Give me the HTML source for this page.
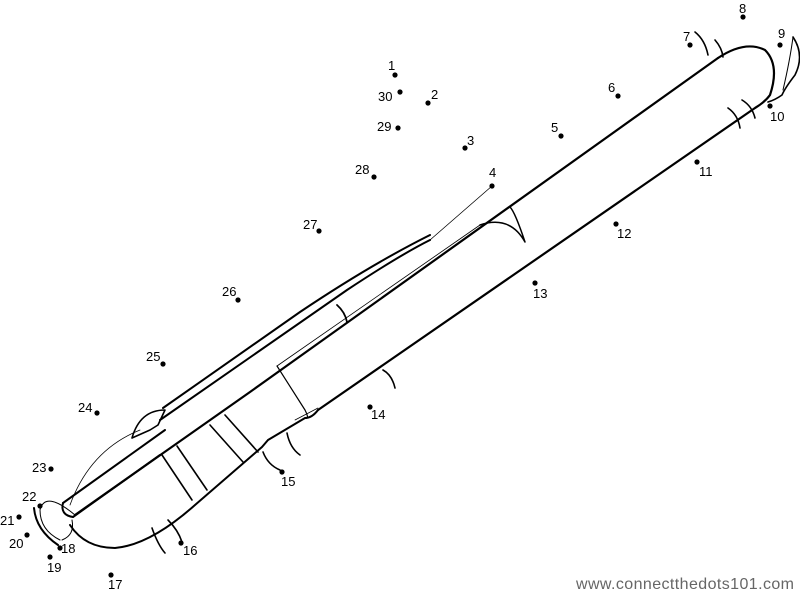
<!DOCTYPE html>
<html><head><style>
html,body{margin:0;padding:0;background:#fff;}
svg{display:block;}
text{font-family:"Liberation Sans",sans-serif;font-size:13px;fill:#000;}
</style></head><body>
<svg width="800" height="594" viewBox="0 0 800 594" xmlns="http://www.w3.org/2000/svg">
<g fill="none" stroke="#000" stroke-linecap="round" stroke-linejoin="round">
<path d="M718,58 Q745,40 765,50 Q780,65 770,95 Q765,102 755,108 L318,410" stroke-width="2.2"/>
<path d="M718,58 L250,392 L75,515" stroke-width="2.2"/>
<path d="M318,410 Q312,418 305,418 L268,440 L262,447 L195,505 Q150,545 115,548 Q85,548 70,525" stroke-width="2"/>
<path d="M480,225 L277,366" stroke-width="0.8"/>
<path d="M318,408 L295,420" stroke-width="0.8"/>
<path d="M277,366 L305,410 Q310,420 305,418" stroke-width="1.2"/>
<path d="M160,420 L347,290 Q400,255 430,240" stroke-width="2"/>
<path d="M163,408 L300,312 Q370,265 430,235" stroke-width="2"/>
<path d="M430,240 L492,186" stroke-width="0.8"/>
<path d="M480,225 Q510,215 525,242 Q515,212 510,207" stroke-width="1.5"/>
<path d="M132,438 Q140,410 165,410 L158,425 L150,430 L132,438" stroke-width="1.6"/>
<path d="M63,503 L165,430" stroke-width="2"/>
<path d="M73,517 L160,455" stroke-width="2"/>
<path d="M63,503 Q60,515 73,517" stroke-width="2"/>
<path d="M75,515 Q45,490 40,510 Q40,530 60,540" stroke-width="1"/>
<path d="M72,520 Q75,535 62,540" stroke-width="1"/>
<path d="M70,505 Q90,450 140,430" stroke-width="0.8"/>
<path d="M162,455 L192,500" stroke-width="1.6"/>
<path d="M177,446 L207,490" stroke-width="1.6"/>
<path d="M210,425 L243,462" stroke-width="1.6"/>
<path d="M225,415 L258,452" stroke-width="1.6"/>
<path d="M152,528 Q158,545 165,553" stroke-width="1.6"/>
<path d="M168,520 Q178,530 182,542" stroke-width="1.6"/>
<path d="M263,452 Q268,465 280,470" stroke-width="1.6"/>
<path d="M287,433 Q290,448 300,455" stroke-width="1.6"/>
<path d="M383,370 Q392,375 395,388" stroke-width="1.6"/>
<path d="M337,305 Q345,312 347,322" stroke-width="1.8"/>
<path d="M695,32 Q705,40 708,55" stroke-width="1.6"/>
<path d="M715,40 Q722,48 723,57" stroke-width="1.6"/>
<path d="M728,108 Q738,115 740,128" stroke-width="1.6"/>
<path d="M742,100 Q752,106 755,118" stroke-width="1.6"/>
<path d="M34,508 Q36,530 58,545" stroke-width="2"/>
<path d="M793,37 Q805,55 795,75 Q785,88 782,95 Q775,100 768,102" stroke-width="1.6"/>
<path d="M793,37 Q790,60 783,90" stroke-width="1"/>
</g>
<g fill="#000">
<circle cx="395" cy="75" r="2.6"/><circle cx="400" cy="92" r="2.6"/><circle cx="428" cy="103" r="2.6"/>
<circle cx="398" cy="128" r="2.6"/><circle cx="465" cy="148" r="2.6"/><circle cx="492" cy="186" r="2.6"/>
<circle cx="561" cy="136" r="2.6"/><circle cx="618" cy="96" r="2.6"/><circle cx="690" cy="45" r="2.6"/>
<circle cx="743" cy="17" r="2.6"/><circle cx="780" cy="45" r="2.6"/><circle cx="770" cy="106" r="2.6"/>
<circle cx="697" cy="162" r="2.6"/><circle cx="616" cy="224" r="2.6"/><circle cx="535" cy="283" r="2.6"/>
<circle cx="370" cy="407" r="2.6"/><circle cx="282" cy="472" r="2.6"/><circle cx="181" cy="543" r="2.6"/>
<circle cx="111" cy="575" r="2.6"/><circle cx="60" cy="548" r="2.6"/><circle cx="50" cy="557" r="2.6"/>
<circle cx="27" cy="535" r="2.6"/><circle cx="19" cy="517" r="2.6"/><circle cx="40" cy="506" r="2.6"/>
<circle cx="51" cy="469" r="2.6"/><circle cx="97" cy="413" r="2.6"/><circle cx="163" cy="364" r="2.6"/>
<circle cx="238" cy="300" r="2.6"/><circle cx="319" cy="231" r="2.6"/><circle cx="374" cy="177" r="2.6"/>
</g>
<text x="388" y="70">1</text><text x="378" y="101">30</text><text x="431" y="99">2</text>
<text x="377" y="131">29</text><text x="467" y="145">3</text><text x="489" y="177">4</text>
<text x="551" y="132">5</text><text x="608" y="92">6</text><text x="683" y="41">7</text>
<text x="739" y="13">8</text><text x="778" y="38">9</text><text x="770" y="121">10</text>
<text x="699" y="176">11</text><text x="617" y="238">12</text><text x="533" y="298">13</text>
<text x="371" y="419">14</text><text x="281" y="486">15</text><text x="183" y="555">16</text>
<text x="108" y="589">17</text><text x="61" y="553">18</text><text x="47" y="572">19</text>
<text x="9" y="548">20</text><text x="0" y="525">21</text><text x="22" y="501">22</text>
<text x="32" y="472">23</text><text x="78" y="412">24</text><text x="146" y="361">25</text>
<text x="222" y="296">26</text><text x="303" y="229">27</text><text x="355" y="174">28</text>
<text x="576" y="589" style="font-size:16px;fill:#666" textLength="218">www.connectthedots101.com</text>
</svg>
</body></html>
